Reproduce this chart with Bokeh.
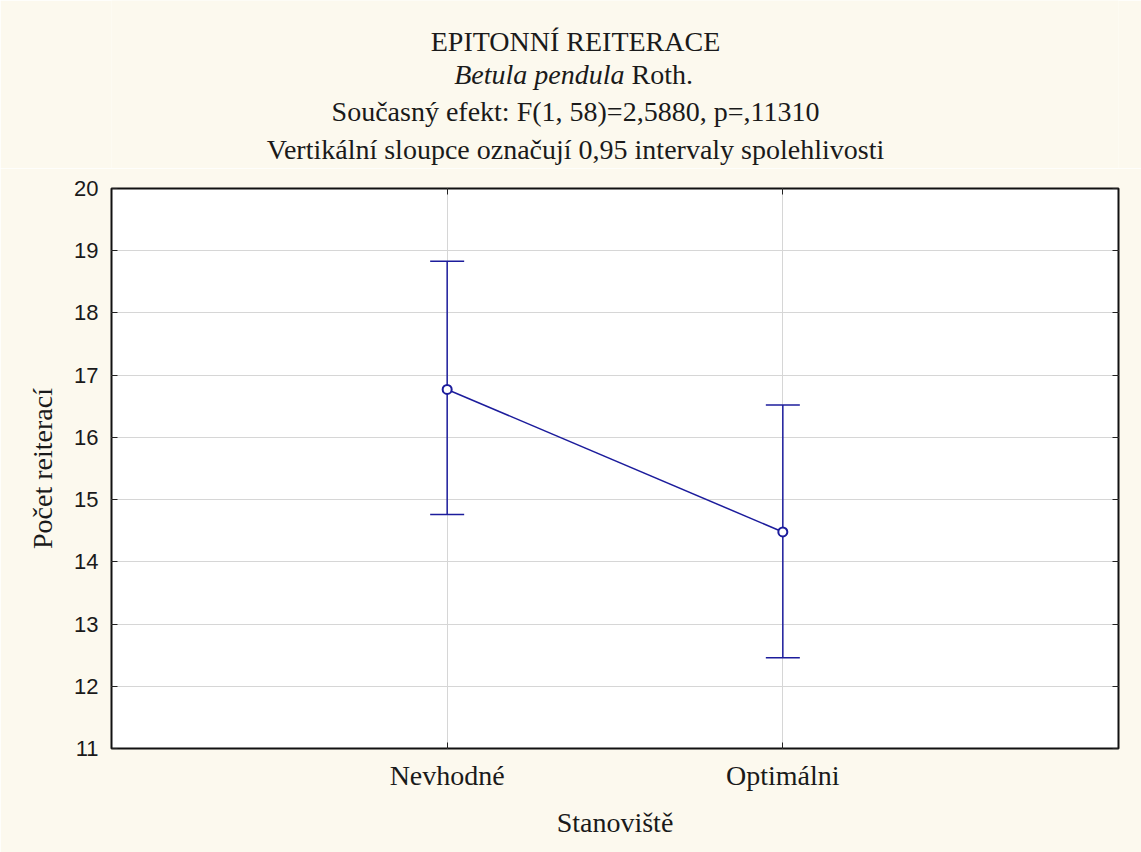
from bokeh.plotting import figure
from bokeh.models import (ColumnDataSource, Whisker, LinearAxis, FixedTicker,
                          Range1d, TeeHead)
from bokeh.layouts import column
from bokeh.core.properties import value
from bokeh.embed import file_html
from bokeh.resources import INLINE

# Group means and 0.95 confidence limits
categories = ["Nevhodné", "Optimálni"]
means = [16.77, 14.48]
lower = [14.76, 12.46]
upper = [18.83, 16.52]
y_ticks = [11, 12, 13, 14, 15, 16, 17, 18, 19, 20]

title_lines = [
    "EPITONNÍ REITERACE",
    "Současný efekt: F(1, 58)=2,5880, p=,11310",
    "Vertikální sloupce označují 0,95 intervaly spolehlivosti",
]
species = "Betula pendula"
author = "Roth."

BG = "#fcf9ee"
LINE = "#1c1c9c"
INK = "#1a1a1a"
SERIF = "Liberation Serif"
SANS = "Liberation Sans"
FS = "28px"
HEAD_H = 168
LEFT, RIGHT, FRAME_W = 111, 23, 1007

# ---- heading strip: page-pixel coordinates, y measured downward ----
# (its frame lines up with the plot frame below, so x runs LEFT..LEFT+FRAME_W)
head = figure(frame_width=FRAME_W, frame_height=HEAD_H, title=None,
              x_range=Range1d(LEFT, LEFT + FRAME_W), y_range=Range1d(HEAD_H, 0),
              output_backend="svg", toolbar_location=None,
              min_border_left=LEFT, min_border_right=RIGHT,
              min_border_top=0, min_border_bottom=0,
              x_axis_location=None, y_axis_location=None,
              background_fill_color=BG, border_fill_color=BG)
head.grid.visible = False
head.outline_line_color = None

cx = 575
head.text(x=[cx, cx, cx], y=[41, 111, 149], text=title_lines,
          text_font=value(SERIF), text_font_size=FS, text_color=INK,
          text_align="center", text_baseline="middle")
head.text(x=[624], y=[74], text=[species], text_font=value(SERIF),
          text_font_size=FS, text_font_style="italic", text_color=INK,
          text_align="right", text_baseline="middle")
head.text(x=[631], y=[74], text=[author], text_font=value(SERIF),
          text_font_size=FS, text_color=INK,
          text_align="left", text_baseline="middle")

# ---- means plot ----
xpos = [i + 1 for i in range(len(categories))]
src = ColumnDataSource(dict(x=xpos, mean=means, lo=lower, hi=upper))

p = figure(frame_width=FRAME_W, frame_height=560, title=None,
           min_border_left=LEFT, min_border_right=RIGHT,
           min_border_top=20, min_border_bottom=104,
           x_range=Range1d(0, 3), y_range=Range1d(11, 20),
           output_backend="svg", toolbar_location=None,
           background_fill_color="white", border_fill_color=BG)

p.outline_line_color = "#111111"
p.outline_line_width = 2

p.xgrid.ticker = FixedTicker(ticks=xpos)
p.ygrid.ticker = FixedTicker(ticks=y_ticks)
for g in (p.xgrid, p.ygrid):
    g.grid_line_color = "#d6d6d6"
    g.grid_line_width = 1

# bottom axis with category names
xa = p.xaxis[0]
xa.ticker = FixedTicker(ticks=xpos)
xa.major_label_overrides = {x: c for x, c in zip(xpos, categories)}
xa.axis_label = "Stanoviště"
xa.axis_label_text_font = SERIF
xa.axis_label_text_font_style = "normal"
xa.axis_label_text_font_size = FS
xa.axis_label_standoff = 13
xa.major_label_text_font = SERIF
xa.major_label_text_font_size = FS
xa.major_label_standoff = 11

ya = p.yaxis[0]
ya.ticker = FixedTicker(ticks=y_ticks)
ya.axis_label = "Počet reiterací"
ya.axis_label_text_font = SERIF
ya.axis_label_text_font_style = "normal"
ya.axis_label_text_font_size = FS
ya.axis_label_standoff = 13
ya.major_label_text_font = SANS
ya.major_label_text_font_size = "22px"
ya.major_label_standoff = 13

for ax in (xa, ya):
    ax.axis_line_color = None
    ax.major_tick_in = 6
    ax.major_tick_out = 0
    ax.minor_tick_line_color = None
    ax.major_tick_line_color = "#222222"
    ax.major_label_text_color = INK
    ax.axis_label_text_color = INK

# mirrored tick marks on the top and right edges, without labels
top = LinearAxis(ticker=FixedTicker(ticks=xpos),
                 major_label_overrides={x: "" for x in xpos},
                 axis_line_color=None, major_tick_in=6, major_tick_out=0,
                 minor_tick_line_color=None, major_tick_line_color="#222222")
right = LinearAxis(ticker=FixedTicker(ticks=y_ticks),
                   major_label_overrides={y: "" for y in y_ticks},
                   axis_line_color=None, major_tick_in=6, major_tick_out=0,
                   minor_tick_line_color=None, major_tick_line_color="#222222")
p.add_layout(top, "above")
p.add_layout(right, "right")

# confidence intervals with tee caps
p.add_layout(Whisker(source=src, base="x", lower="lo", upper="hi",
                     line_color=LINE, line_width=1.5,
                     upper_head=TeeHead(size=34, line_color=LINE, line_width=1.5),
                     lower_head=TeeHead(size=34, line_color=LINE, line_width=1.5)))

p.line("x", "mean", source=src, line_color=LINE, line_width=1.5)
p.scatter("x", "mean", source=src, marker="circle", size=9,
          fill_color="white", line_color=LINE, line_width=2)

layout = column(head, p, spacing=0)
open("out.html", "w").write(file_html(layout, INLINE))
